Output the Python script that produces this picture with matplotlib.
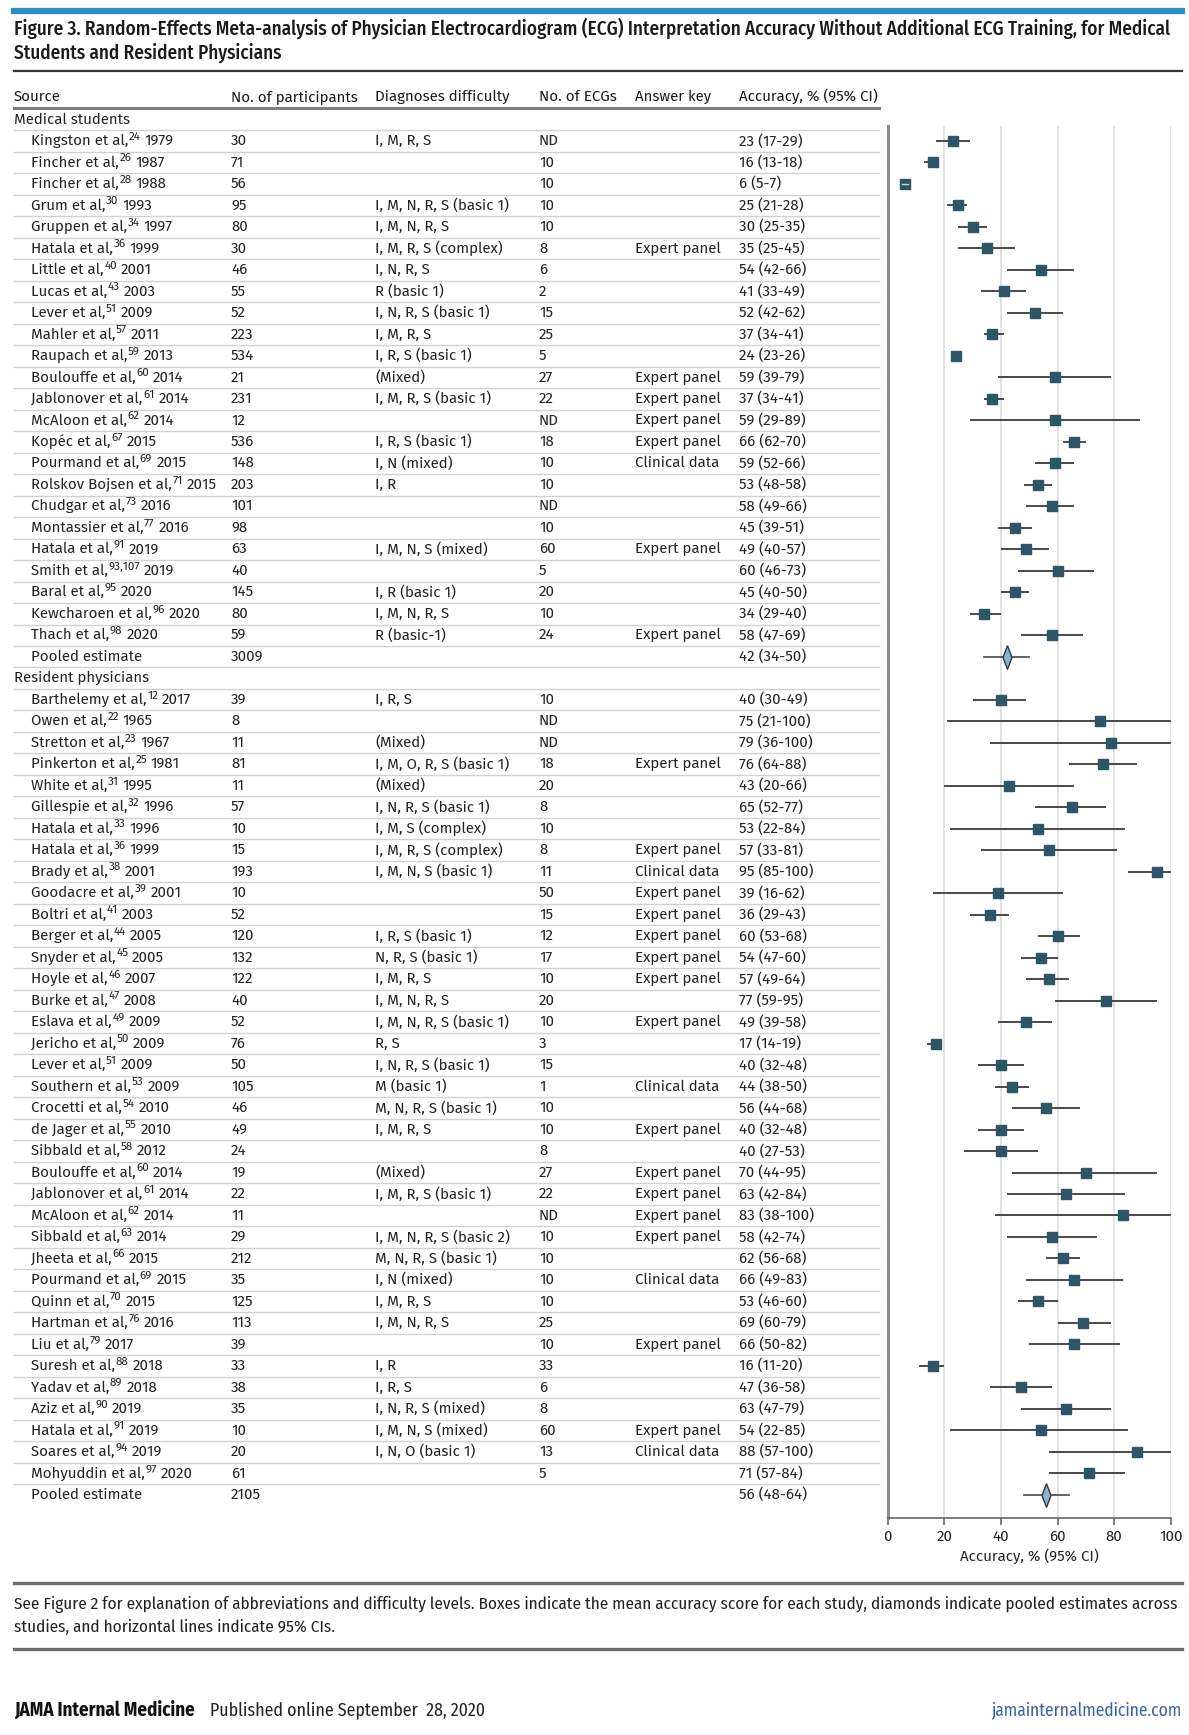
import matplotlib
matplotlib.use("Agg")
import matplotlib.pyplot as plt
from matplotlib import font_manager
from matplotlib.lines import Line2D
from matplotlib.path import Path

# ---- data: medical students ----
med_names = ["Kingston et al,", "Fincher et al,", "Fincher et al,", "Grum et al,", "Gruppen et al,",
             "Hatala et al,", "Little et al,", "Lucas et al,", "Lever et al,", "Mahler et al,",
             "Raupach et al,", "Boulouffe et al,", "Jablonover et al,", "McAloon et al,", "Kopéc et al,",
             "Pourmand et al,", "Rolskov Bojsen et al,", "Chudgar et al,", "Montassier et al,",
             "Hatala et al,", "Smith et al,", "Baral et al,", "Kewcharoen et al,", "Thach et al,"]
med_refs = ["24", "26", "28", "30", "34", "36", "40", "43", "51", "57", "59", "60", "61", "62", "67",
            "69", "71", "73", "77", "91", "93,107", "95", "96", "98"]
med_years = [1979, 1987, 1988, 1993, 1997, 1999, 2001, 2003, 2009, 2011, 2013, 2014, 2014, 2014, 2015,
             2015, 2015, 2016, 2016, 2019, 2019, 2020, 2020, 2020]
med_n = [30, 71, 56, 95, 80, 30, 46, 55, 52, 223, 534, 21, 231, 12, 536, 148, 203, 101, 98, 63, 40,
         145, 80, 59]
med_diff = ["I, M, R, S", "", "", "I, M, N, R, S (basic 1)", "I, M, N, R, S", "I, M, R, S (complex)",
            "I, N, R, S", "R (basic 1)", "I, N, R, S (basic 1)", "I, M, R, S", "I, R, S (basic 1)",
            "(Mixed)", "I, M, R, S (basic 1)", "", "I, R, S (basic 1)", "I, N (mixed)", "I, R", "", "",
            "I, M, N, S (mixed)", "", "I, R (basic 1)", "I, M, N, R, S", "R (basic-1)"]
med_ecgs = ["ND", "10", "10", "10", "10", "8", "6", "2", "15", "25", "5", "27", "22", "ND", "18", "10",
            "10", "ND", "10", "60", "5", "20", "10", "24"]
med_key = ["", "", "", "", "", "Expert panel", "", "", "", "", "", "Expert panel", "Expert panel",
           "Expert panel", "Expert panel", "Clinical data", "", "", "", "Expert panel", "", "", "",
           "Expert panel"]
med_acc = [23, 16, 6, 25, 30, 35, 54, 41, 52, 37, 24, 59, 37, 59, 66, 59, 53, 58, 45, 49, 60, 45, 34, 58]
med_lo = [17, 13, 5, 21, 25, 25, 42, 33, 42, 34, 23, 39, 34, 29, 62, 52, 48, 49, 39, 40, 46, 40, 29, 47]
med_hi = [29, 18, 7, 28, 35, 45, 66, 49, 62, 41, 26, 79, 41, 89, 70, 66, 58, 66, 51, 57, 73, 50, 40, 69]
med_pool_n, med_pool, med_pool_lo, med_pool_hi = 3009, 42, 34, 50

# ---- data: resident physicians ----
res_names = ["Barthelemy et al,", "Owen et al,", "Stretton et al,", "Pinkerton et al,", "White et al,",
             "Gillespie et al,", "Hatala et al,", "Hatala et al,", "Brady et al,", "Goodacre et al,",
             "Boltri et al,", "Berger et al,", "Snyder et al,", "Hoyle et al,", "Burke et al,",
             "Eslava et al,", "Jericho et al,", "Lever et al,", "Southern et al,", "Crocetti et al,",
             "de Jager et al,", "Sibbald et al,", "Boulouffe et al,", "Jablonover et al,", "McAloon et al,",
             "Sibbald et al,", "Jheeta et al,", "Pourmand et al,", "Quinn et al,", "Hartman et al,",
             "Liu et al,", "Suresh et al,", "Yadav et al,", "Aziz et al,", "Hatala et al,", "Soares et al,",
             "Mohyuddin et al,"]
res_refs = ["12", "22", "23", "25", "31", "32", "33", "36", "38", "39", "41", "44", "45", "46", "47", "49",
            "50", "51", "53", "54", "55", "58", "60", "61", "62", "63", "66", "69", "70", "76", "79", "88",
            "89", "90", "91", "94", "97"]
res_years = [2017, 1965, 1967, 1981, 1995, 1996, 1996, 1999, 2001, 2001, 2003, 2005, 2005, 2007, 2008,
             2009, 2009, 2009, 2009, 2010, 2010, 2012, 2014, 2014, 2014, 2014, 2015, 2015, 2015, 2016,
             2017, 2018, 2018, 2019, 2019, 2019, 2020]
res_n = [39, 8, 11, 81, 11, 57, 10, 15, 193, 10, 52, 120, 132, 122, 40, 52, 76, 50, 105, 46, 49, 24, 19,
         22, 11, 29, 212, 35, 125, 113, 39, 33, 38, 35, 10, 20, 61]
res_diff = ["I, R, S", "", "(Mixed)", "I, M, O, R, S (basic 1)", "(Mixed)", "I, N, R, S (basic 1)",
            "I, M, S (complex)", "I, M, R, S (complex)", "I, M, N, S (basic 1)", "", "", "I, R, S (basic 1)",
            "N, R, S (basic 1)", "I, M, R, S", "I, M, N, R, S", "I, M, N, R, S (basic 1)", "R, S",
            "I, N, R, S (basic 1)", "M (basic 1)", "M, N, R, S (basic 1)", "I, M, R, S", "", "(Mixed)",
            "I, M, R, S (basic 1)", "", "I, M, N, R, S (basic 2)", "M, N, R, S (basic 1)", "I, N (mixed)",
            "I, M, R, S", "I, M, N, R, S", "", "I, R", "I, R, S", "I, N, R, S (mixed)", "I, M, N, S (mixed)",
            "I, N, O (basic 1)", ""]
res_ecgs = ["10", "ND", "ND", "18", "20", "8", "10", "8", "11", "50", "15", "12", "17", "10", "20", "10",
            "3", "15", "1", "10", "10", "8", "27", "22", "ND", "10", "10", "10", "10", "25", "10", "33",
            "6", "8", "60", "13", "5"]
res_key = ["", "", "", "Expert panel", "", "", "", "Expert panel", "Clinical data", "Expert panel",
           "Expert panel", "Expert panel", "Expert panel", "Expert panel", "", "Expert panel", "", "",
           "Clinical data", "", "Expert panel", "", "Expert panel", "Expert panel", "Expert panel",
           "Expert panel", "", "Clinical data", "", "", "Expert panel", "", "", "", "Expert panel",
           "Clinical data", ""]
res_acc = [40, 75, 79, 76, 43, 65, 53, 57, 95, 39, 36, 60, 54, 57, 77, 49, 17, 40, 44, 56, 40, 40, 70,
           63, 83, 58, 62, 66, 53, 69, 66, 16, 47, 63, 54, 88, 71]
res_lo = [30, 21, 36, 64, 20, 52, 22, 33, 85, 16, 29, 53, 47, 49, 59, 39, 14, 32, 38, 44, 32, 27, 44, 42,
          38, 42, 56, 49, 46, 60, 50, 11, 36, 47, 22, 57, 57]
res_hi = [49, 100, 100, 88, 66, 77, 84, 81, 100, 62, 43, 68, 60, 64, 95, 58, 19, 48, 50, 68, 48, 53, 95,
          84, 100, 74, 68, 83, 60, 79, 82, 20, 58, 79, 85, 100, 84]
res_pool_n, res_pool, res_pool_lo, res_pool_hi = 2105, 56, 48, 64

headers = ["Source", "No. of participants", "Diagnoses difficulty", "No. of ECGs", "Answer key",
           "Accuracy, % (95% CI)"]
x_ticks = [0, 20, 40, 60, 80, 100]

# ---- fonts ----
names = {f.name for f in font_manager.fontManager.ttflist}


def pick(cands):
    for c in cands:
        if c in names:
            return c
    return "DejaVu Sans"


narrow = pick(["Fira Sans Condensed", "Asap Condensed", "Encode Sans Condensed", "Roboto Condensed",
               "IBM Plex Sans Condensed", "PT Sans Narrow", "Archivo Narrow", "Liberation Sans Narrow"])
body = pick(["Fira Sans", "Lato"])
plt.rcParams["font.family"] = [body, "DejaVu Sans"]

W, H = 1189, 1735
fig = plt.figure(figsize=(W / 100, H / 100), dpi=100)
renderer = fig.canvas.get_renderer()


def fx(px):
    return px / W


def fy(px):
    return 1 - px / H


def fit(t, target):
    # scale a text so that its drawn width matches the width seen in the reference
    w = t.get_window_extent(renderer).width
    t.set_fontsize(t.get_fontsize() * target / w)
    return t.get_fontsize()


def hline(y, x0, x1, color, lw):
    fig.add_artist(Line2D([fx(x0), fx(x1)], [fy(y), fy(y)], color=color, lw=lw,
                          transform=fig.transFigure))


# row geometry (px)
row0, drow = 119.5, 21.49
top_row, bot_row = 0.3, 65.09
ax_top = row0 + top_row * drow
ax_bot = row0 + bot_row * drow

# top decoration
hline(11, 14, 1182, "#2a8fc4", 4.5)
t1 = fig.text(fx(14), fy(28), "Figure 3. Random-Effects Meta-analysis of Physician Electrocardiogram (ECG) "
              "Interpretation Accuracy Without Additional ECG Training, for Medical",
              family=narrow, fontsize=14, weight=500, va="center", color="#1a1a1a")
tsize = fit(t1, 1150)
fig.text(fx(14), fy(53), "Students and Resident Physicians",
         family=narrow, fontsize=tsize, weight=500, va="center", color="#1a1a1a")
hline(71, 14, 1182, "#333333", 1.6)

# body font size from the header width
probe = fig.text(0, 0, headers[-1], fontsize=11)
fs = fit(probe, 138)
probe.remove()
space = fs * 100 / 72 * 0.26

col_x = [14, 231, 375, 539, 635, 739]
for cx, h in zip(col_x, headers):
    fig.text(fx(cx), fy(96.5), h, fontsize=fs, va="center", color="#1a1a1a")
hline(108.5, 14, 879, "#808080", 2.2)

# ---- table axes (x in pixels, y in rows) ----
axt = fig.add_axes([0, fy(ax_bot), 1, (ax_bot - ax_top) / H])
axt.set_xlim(0, W)
axt.set_ylim(bot_row, top_row)
axt.axis("off")


def source_label(y, name, ref, year):
    t = axt.text(31, y, name, fontsize=fs, va="center", color="#222222")
    x = 31 + t.get_window_extent(renderer).width + 0.5
    s = axt.text(x, y - 0.2, ref, fontsize=fs * 0.78, va="center", color="#222222")
    x += s.get_window_extent(renderer).width + space
    axt.text(x, y, str(year), fontsize=fs, va="center", color="#222222")


rows = []  # (label, n, diff, ecgs, key, acc_text)
rows.append((("Medical students",), "", "", "", "", ""))
for i in range(len(med_names)):
    rows.append(((med_names[i], med_refs[i], med_years[i]), str(med_n[i]), med_diff[i], med_ecgs[i],
                 med_key[i], f"{med_acc[i]} ({med_lo[i]}-{med_hi[i]})"))
rows.append((("Pooled estimate", None), str(med_pool_n), "", "", "",
             f"{med_pool} ({med_pool_lo}-{med_pool_hi})"))
rows.append((("Resident physicians",), "", "", "", "", ""))
for i in range(len(res_names)):
    rows.append(((res_names[i], res_refs[i], res_years[i]), str(res_n[i]), res_diff[i], res_ecgs[i],
                 res_key[i], f"{res_acc[i]} ({res_lo[i]}-{res_hi[i]})"))
rows.append((("Pooled estimate", None), str(res_pool_n), "", "", "",
             f"{res_pool} ({res_pool_lo}-{res_pool_hi})"))

for r, row in enumerate(rows):
    lab = row[0]
    if len(lab) == 1:
        axt.text(14, r, lab[0], fontsize=fs, va="center", color="#222222")
    elif len(lab) == 2:
        axt.text(31, r, lab[0], fontsize=fs, va="center", color="#222222")
    else:
        source_label(r, *lab)
    for cx, val in zip(col_x[1:], row[1:]):
        if val:
            axt.text(cx, r, val, fontsize=fs, va="center", color="#222222")
    if r < len(rows) - 1:
        axt.plot([14, 879], [r + 0.5, r + 0.5], color="#d2d2ca", lw=1.0, clip_on=False)

# ---- forest plot ----
ax = fig.add_axes([fx(887.7), fy(ax_bot), fx(1170.7) - fx(887.7), (ax_bot - ax_top) / H])
ax.set_xlim(0, 100)
ax.set_ylim(bot_row, top_row)

study_rows = list(range(1, 1 + len(med_names))) + list(range(27, 27 + len(res_names)))
acc = med_acc + res_acc
lo = med_lo + res_lo
hi = med_hi + res_hi
for y, m, l, h in zip(study_rows, acc, lo, hi):
    ax.plot([l, h], [y, y], color="#3a3a3a", lw=1.3, solid_capstyle="butt", zorder=3)
    ax.plot([m], [y], marker="s", ms=7.4, color="#2d5566", mec="#2d5566", zorder=4)
    if h - l < 3:
        ax.plot([l, h], [y, y], color="#d8d8d8", lw=1.0, zorder=5)

diamond = Path([(0, 1), (0.38, 0), (0, -1), (-0.38, 0), (0, 1)])
pool_rows = [25, 64]
pools = [med_pool, res_pool]
pool_lo = [med_pool_lo, res_pool_lo]
pool_hi = [med_pool_hi, res_pool_hi]
for y, m, l, h in zip(pool_rows, pools, pool_lo, pool_hi):
    ax.plot([l, h], [y, y], color="#555555", lw=1.3, zorder=3)
    ax.plot([m], [y], marker=diamond, ms=17, color="#8fb4c8", mec="#2a3a44", mew=1.0, zorder=4)

ax.set_yticks([])
ax.set_xticks(x_ticks)
ax.tick_params(axis="x", length=5, width=1.2, color="#666666", labelsize=fs, pad=3,
               labelcolor="#222222")
ax.grid(axis="x", color="#dddddd", lw=1.2)
ax.set_axisbelow(True)
for s in ["top", "right"]:
    ax.spines[s].set_visible(False)
ax.spines["left"].set_color("#8c8c8c")
ax.spines["left"].set_linewidth(2.2)
ax.spines["bottom"].set_color("#666666")
ax.spines["bottom"].set_linewidth(1.2)
ax.set_xlabel("Accuracy, % (95% CI)", fontsize=fs, color="#222222", labelpad=3)

# ---- footnote / footer ----
hline(1582.5, 14, 1182, "#6e6e6e", 2.4)
f1 = fig.text(fx(14), fy(1604), "See Figure 2 for explanation of abbreviations and difficulty levels. Boxes "
              "indicate the mean accuracy score for each study, diamonds indicate pooled estimates across",
              family=narrow, fontsize=12.5, va="center", color="#222222")
nsize = fit(f1, 1166)
fig.text(fx(14), fy(1627), "studies, and horizontal lines indicate 95% CIs.",
         family=narrow, fontsize=nsize, va="center", color="#222222")
hline(1649, 14, 1182, "#6e6e6e", 2.4)

j1 = fig.text(fx(14), fy(1710), "JAMA Internal Medicine", family=narrow, fontsize=nsize, weight="bold",
              va="center", color="#111111")
fit(j1, 181)
j2 = fig.text(fx(210), fy(1710), "Published online September  28, 2020", family=narrow, fontsize=nsize,
              va="center", color="#222222")
fit(j2, 274)
j3 = fig.text(fx(1182), fy(1710), "jamainternalmedicine.com", family=narrow, fontsize=nsize, ha="right",
              va="center", color="#3a62a8")
fit(j3, 190)

fig.savefig("out.png", dpi=100, facecolor="white")
